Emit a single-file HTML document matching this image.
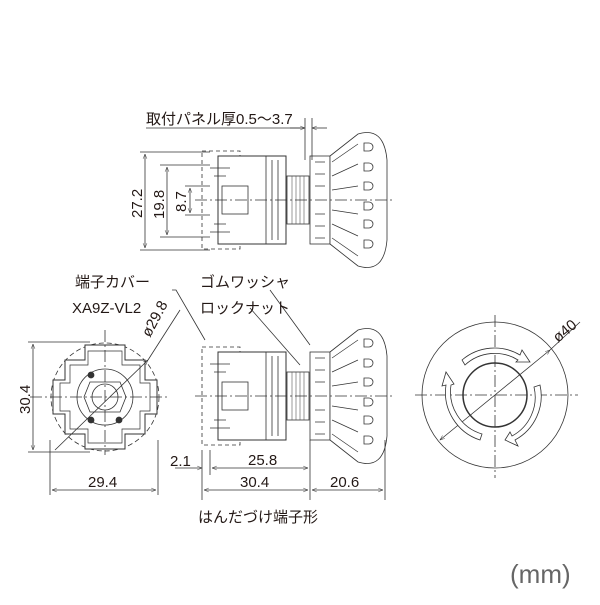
<!DOCTYPE html>
<html><head><meta charset="utf-8"><style>
body{margin:0;background:#fff}
text{font-family:"Liberation Sans","Noto Sans CJK JP",sans-serif;fill:#231815}
</style></head><body>
<svg width="600" height="600" viewBox="0 0 600 600" xmlns="http://www.w3.org/2000/svg">
<defs>
<marker id="a" viewBox="0 0 10 10" refX="10" refY="5" markerWidth="8" markerHeight="6" orient="auto-start-reverse"><path d="M0,1 L10,5 L0,9" fill="none" stroke="#333" stroke-width="1"/></marker>
<g id="side">
  <rect x="202" y="-49" width="38" height="98" fill="none" stroke="#333" stroke-dasharray="4,3" stroke-width="0.8"/>
  <rect x="218" y="-44" width="68" height="88" fill="#fff" stroke="#333" stroke-width="1"/>
  <rect x="222" y="-14" width="26" height="28" fill="none" stroke="#333" stroke-width="0.8"/>
  <path d="M266,-44 V44 M272,-40 V40 M278,-40 V40" stroke="#333" stroke-width="0.8"/>
  <path d="M210,-32 h20 M210,32 h20 M214,-24 h12 M214,24 h12" stroke="#333" stroke-width="0.8"/>
  <rect x="287" y="-24" width="22" height="48" fill="#fff" stroke="#333"/>
  <path d="M292,-24 V24 M296,-24 V24 M300,-24 V24 M304,-24 V24" stroke="#555" stroke-width="0.6"/>
  <rect x="310" y="-44" width="20" height="88" fill="#fff" stroke="#333"/>
  <path d="M330,-44 L358,-66 Q384,-74 387,-40 L387,40 Q384,74 358,66 L330,44 Z" fill="#fff" stroke="#333"/>
  <path d="M315,-38 h10 M315,-26 h10 M315,-14 h10 M315,14 h10 M315,26 h10 M315,38 h10" stroke="#333" stroke-width="0.7"/>
  <path d="M332,-38 L358,-56 M332,-24 L358,-36 M332,-10 L358,-14 M332,10 L358,14 M332,24 L358,36 M332,38 L358,56" stroke="#333" stroke-width="0.7"/>
  <path d="M364,-57 h5 a4,4 0 0 1 0,8 h-5z M364,-37 h5 a4,4 0 0 1 0,8 h-5z M364,-18 h5 a4,4 0 0 1 0,8 h-5z M364,2 h5 a4,4 0 0 1 0,8 h-5z M364,20 h5 a4,4 0 0 1 0,8 h-5z M364,40 h5 a4,4 0 0 1 0,8 h-5z" fill="none" stroke="#333" stroke-width="0.8"/>
</g>
</defs>
<g stroke="#333" fill="none" stroke-width="0.8">
<use href="#side" y="200"/>
<line x1="195" y1="200" x2="395" y2="200" stroke-dasharray="12,3,2,3"/>
<line x1="146" y1="128" x2="305" y2="128"/>
<line x1="305" y1="118" x2="305" y2="160"/><line x1="312" y1="118" x2="312" y2="160"/>
<line x1="290" y1="128" x2="305" y2="128" marker-end="url(#a)"/>
<line x1="327" y1="128" x2="312" y2="128" marker-end="url(#a)"/>
<line x1="140" y1="152" x2="210" y2="152"/><line x1="140" y1="250" x2="210" y2="250"/>
<line x1="145" y1="154" x2="145" y2="248" marker-start="url(#a)" marker-end="url(#a)"/>
<line x1="160" y1="165" x2="210" y2="165"/><line x1="160" y1="237" x2="210" y2="237"/>
<line x1="167" y1="167" x2="167" y2="235" marker-start="url(#a)" marker-end="url(#a)"/>
<line x1="185" y1="186" x2="210" y2="186"/><line x1="185" y1="215" x2="210" y2="215"/>
<line x1="190" y1="188" x2="190" y2="213" marker-start="url(#a)" marker-end="url(#a)"/>
<use href="#side" y="396"/>
<line x1="195" y1="396" x2="395" y2="396" stroke-dasharray="12,3,2,3"/>
<path d="M172,290 H176 L205,340"/><path d="M250,308 L300,365"/><path d="M270,290 L310,345"/>
<line x1="202" y1="450" x2="202" y2="500"/><line x1="210" y1="450" x2="210" y2="475"/>
<line x1="310" y1="440" x2="310" y2="500"/><line x1="385" y1="440" x2="385" y2="500"/>
<line x1="175" y1="468" x2="202" y2="468" marker-end="url(#a)"/>
<line x1="212" y1="468" x2="308" y2="468" marker-start="url(#a)" marker-end="url(#a)"/>
<line x1="204" y1="490" x2="308" y2="490" marker-start="url(#a)" marker-end="url(#a)"/>
<line x1="312" y1="490" x2="383" y2="490" marker-start="url(#a)" marker-end="url(#a)"/>
<circle cx="105" cy="397" r="54" stroke-dasharray="5,3"/>
<path d="M65,360 h20 v-15 h40 v15 h20 v20 h12 v34 h-12 v20 h-20 v15 h-40 v-15 h-20 v-20 h-12 v-34 h12z" fill="#fff" stroke-width="1"/>
<path d="M70,365 h18 v-14 h34 v14 h18 v18 h10 v28 h-10 v18 h-18 v14 h-34 v-14 h-18 v-18 h-10 v-28 h10z" stroke-width="0.7"/>
<circle cx="105" cy="397" r="28" fill="#fff"/>
<path d="M90,382 h30 l6,15 l-6,15 h-30 l-6,-15z"/>
<circle cx="105" cy="397" r="13"/>
<circle cx="91" cy="375" r="3" fill="#333"/><circle cx="91" cy="420" r="3" fill="#333"/><circle cx="119" cy="420" r="3" fill="#333"/>
<line x1="30" y1="397" x2="170" y2="397" stroke-dasharray="12,3,2,3"/>
<line x1="105" y1="330" x2="105" y2="455" stroke-dasharray="12,3,2,3"/>
<line x1="28" y1="342" x2="90" y2="342"/><line x1="28" y1="452" x2="90" y2="452"/>
<line x1="33" y1="344" x2="33" y2="450" marker-start="url(#a)" marker-end="url(#a)"/>
<line x1="50" y1="440" x2="50" y2="495"/><line x1="158" y1="440" x2="158" y2="495"/>
<line x1="52" y1="490" x2="156" y2="490" marker-start="url(#a)" marker-end="url(#a)"/>
<line x1="55" y1="450" x2="148" y2="360" marker-end="url(#a)"/><line x1="148" y1="360" x2="180" y2="310"/>
<circle cx="495" cy="395" r="73"/>
<circle cx="495" cy="395" r="32" stroke-width="1.5"/>
<line x1="415" y1="395" x2="578" y2="395" stroke-dasharray="12,3,2,3"/>
<line x1="495" y1="315" x2="495" y2="478" stroke-dasharray="12,3,2,3"/>
<line x1="550" y1="350" x2="440" y2="440" marker-start="url(#a)" marker-end="url(#a)"/>
<line x1="550" y1="350" x2="580" y2="322"/>
<path d="M462,360 A50,50 0 0 1 520,355 L522,350 L530,362 L516,362 L518,360 A44,44 0 0 0 465,365 Z" fill="#fff"/>
<path d="M540,385 A50,50 0 0 1 515,440 L518,446 L505,440 L510,432 L512,436 A44,44 0 0 0 534,387 Z" fill="#fff"/>
<path d="M480,440 A50,50 0 0 1 446,385 L442,386 L446,372 L454,384 L451,385 A44,44 0 0 0 482,434 Z" fill="#fff"/>
</g>
<g font-size="15">
<text x="146" y="124">取付パネル厚0.5～3.7</text>
<text x="75" y="287">端子カバー</text>
<text x="72" y="313">XA9Z-VL2</text>
<text x="200" y="287">ゴムワッシャ</text>
<text x="200" y="313">ロックナット</text>
<text x="170" y="466">2.1</text>
<text x="248" y="465">25.8</text>
<text x="240" y="487">30.4</text>
<text x="330" y="487">20.6</text>
<text x="88" y="487">29.4</text>
<text x="198" y="522">はんだづけ端子形</text>
<text transform="translate(142,218) rotate(-90)">27.2</text>
<text transform="translate(164,219) rotate(-90)">19.8</text>
<text transform="translate(186,212) rotate(-90)">8.7</text>
<text transform="translate(30,414) rotate(-90)">30.4</text>
<text transform="translate(150,338) rotate(-62)">ø29.8</text>
<text transform="translate(558,343) rotate(-40)">ø40</text>
<text x="510" y="583" font-size="26" style="fill:#666">(mm)</text>
</g>
</svg>
</body></html>
